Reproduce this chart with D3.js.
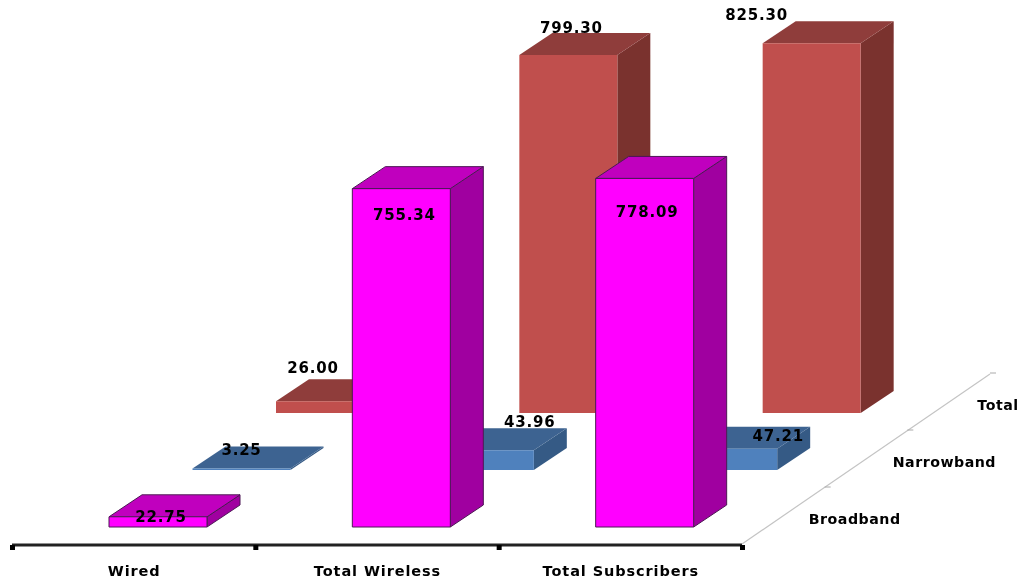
<!DOCTYPE html>
<html><head><meta charset="utf-8">
<script src="https://cdn.jsdelivr.net/npm/d3@7/dist/d3.min.js"></script>
<style>html,body{margin:0;padding:0;background:#fff}svg{display:block}
text{font-family:"DejaVu Sans",sans-serif;font-weight:bold;fill:#000}</style></head>
<body><svg id="c" width="1023" height="582"></svg>
<script>
const categories = ["Wired", "Total Wireless", "Total Subscribers"];
const seriesNames = ["Broadband", "Narrowband", "Total"];
const broadband = [22.75, 755.34, 778.09];
const narrowband = [3.25, 43.96, 47.21];
const total = [26.00, 799.30, 825.30];
const seriesValues = [broadband, narrowband, total];

const axisLeft = 12, axisRight = 742, axisY = 545, floorDX = 248, floorDY = -171;
const x = d3.scaleBand().domain(categories).range([axisLeft, axisRight]);
const depth = d3.scalePoint().domain(seriesNames).range([0, 1]).padding(0.5);
const y = d3.scaleLinear().domain([0, 825.3]).range([0, 369.7]);

const groundY = 527, barW = 98, barOffset = 97, barDX = 33, barDY = -22;
const layerDX = d3.scaleLinear().domain([0, 2]).range([0, 167]);
const layerDY = d3.scaleLinear().domain([0, 2]).range([0, -114]);
const styles = [
  {front:"#ff00ff", top:"#c000be", side:"#a000a0", stroke:"#4d1a55", sw:1},
  {front:"#4f81bd", top:"#3e6491", side:"#355a85", stroke:"none", sw:0},
  {front:"#c0504d", top:"#8f3c3a", side:"#7a302e", stroke:"none", sw:0}
];
// label nudges relative to the centre of each bar's top-front edge
const labelNudge = [
  [[3,0],[3,26],[2.5,34]],
  [[0,-19],[45,-28],[50,-13]],
  [[-12,-33],[3,-27],[-55,-28]]
];
const depthLabelNudge = [30, 37, 8];

const svg = d3.select("#c");
svg.append("defs").append("filter").attr("id","soft")
  .attr("filterUnits","userSpaceOnUse").attr("x",0).attr("y",0).attr("width",1023).attr("height",582)
  .append("feGaussianBlur").attr("stdDeviation",0.55);
const g = svg.append("g").attr("filter","url(#soft)");

// floor axes
g.append("line").attr("x1",axisRight).attr("y1",axisY-1).attr("x2",axisRight+floorDX).attr("y2",axisY+floorDY)
  .attr("stroke","#c4c4c4").attr("stroke-width",1.2);
seriesNames.forEach((s,i) => {
  const d = depth(s) + 1/6;
  const px = axisRight + d * floorDX, py = axisY - 1 + d * floorDY;
  g.append("line").attr("x1",px).attr("y1",py).attr("x2",px+6).attr("y2",py).attr("stroke","#aaa").attr("stroke-width",1);
  g.append("text").attr("x",px+depthLabelNudge[i]).attr("y",py+37).attr("text-anchor","middle")
   .attr("font-size",14.2).attr("letter-spacing",0.5).text(s);
});
g.append("line").attr("x1",axisLeft).attr("y1",axisY).attr("x2",axisRight).attr("y2",axisY).attr("stroke","#222").attr("stroke-width",3);
[...categories.map(c => x(c)), axisRight].forEach(t => {
  g.append("rect").attr("x",t-2).attr("y",axisY).attr("width",5).attr("height",5).attr("fill","#000");
});
categories.forEach(c => {
  g.append("text").attr("x",x(c)+x.bandwidth()/2+0.5).attr("y",576).attr("text-anchor","middle")
   .attr("font-size",14.5).attr("letter-spacing",0.9).text(c);
});

// bars back to front
const poly = pts => pts.map(p => p.join(",")).join(" ");
const geom = (si, ci) => {
  const left = x(categories[ci]) + barOffset + layerDX(si);
  const bot = groundY + layerDY(si);
  return {left, right: left + barW, bot, top: bot - y(seriesValues[si][ci])};
};
[2,1,0].forEach(si => {
  const st = styles[si];
  categories.forEach((c,ci) => {
    const {left, right, bot, top} = geom(si, ci);
    const bar = g.append("g").attr("stroke",st.stroke).attr("stroke-width",st.sw).attr("stroke-linejoin","round");
    bar.append("polygon").attr("fill",st.side).attr("points",poly([[right,bot],[right+barDX,bot+barDY],[right+barDX,top+barDY],[right,top]]));
    bar.append("polygon").attr("fill",st.top).attr("points",poly([[left,top],[left+barDX,top+barDY],[right+barDX,top+barDY],[right,top]]));
    bar.append("polygon").attr("fill",st.front).attr("points",poly([[left,bot],[right,bot],[right,top],[left,top]]));
  });
});
// value labels on top
[2,1,0].forEach(si => {
  categories.forEach((c,ci) => {
    const {left, top} = geom(si, ci);
    const n = labelNudge[si][ci];
    g.append("text").attr("x",left+barW/2+n[0]).attr("y",top+n[1]+5).attr("text-anchor","middle")
      .attr("font-size",15).attr("letter-spacing",0.8).text(d3.format(".2f")(seriesValues[si][ci]));
  });
});
</script></body></html>
